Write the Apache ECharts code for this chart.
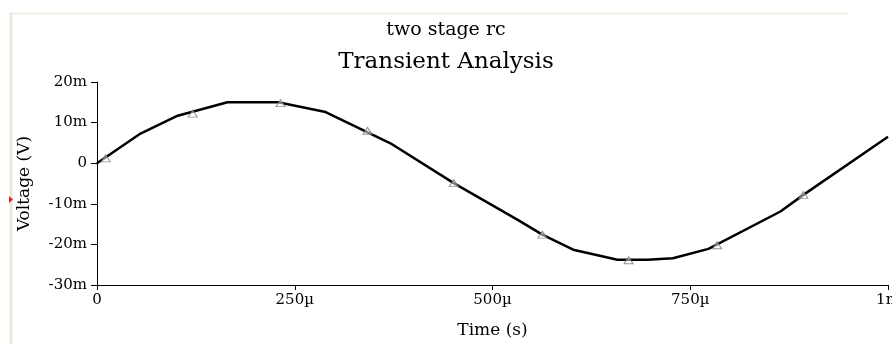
<!DOCTYPE html>
<html>
<head>
<meta charset="utf-8">
<script src="https://cdn.jsdelivr.net/npm/echarts@6/dist/echarts.min.js"></script>
<style>
	html, body { margin: 0; padding: 0; background: #fff; }
	#chart { width: 892px; height: 344px; }
</style>
</head>
<body>
<div id="chart"></div>
<script>
// two stage rc - transient analysis.
// 时间 (µs)
var timeUs = [0, 55, 102, 165, 229, 289, 371, 451, 533, 563, 602, 658, 696, 728, 773, 864, 893, 1000];
// 电压 (mV)
var voltMv = [0, 7.3, 11.7, 15.0, 15.0, 12.6, 4.9, -4.9, -14.1, -17.6, -21.3, -23.8, -23.8, -23.4, -21.1, -11.9, -7.8, 6.5];
// 三角形标记点
var markTimeUs = [11, 121, 232, 342, 451, 563, 672, 784, 893];
var markVoltMv = [1.2, 12.2, 14.8, 8.0, -4.9, -17.6, -23.9, -20.2, -7.8];
// 刻度标签
var xTickLabels = ['0', '250\u00b5', '500\u00b5', '750\u00b5', '1m'];
var yTickLabels = ['-30m', '-20m', '-10m', '0', '10m', '20m'];

;(function(){
	var serif = 'DejaVu Serif';
	var chart = echarts.init(document.getElementById('chart'));

	var lineData = timeUs.map(function(t, i){ return [t, voltMv[i]]; });
	var markData = markTimeUs.map(function(t, i){ return [t, markVoltMv[i]]; });

	var option = {
		animation: false,
		backgroundColor: '#fff',
		title: {
			text: '{a|two stage rc}\n{b|Transient Analysis}',
			left: 'center',
			top: 9,
			textStyle: {
				rich: {
					a: { fontFamily: serif, fontSize: 19, fontWeight: 'normal', color: '#000', lineHeight: 32 },
					b: { fontFamily: serif, fontSize: 23, fontWeight: 'normal', color: '#000', lineHeight: 32 }
				}
			}
		},
		grid: {
			left: 97,
			right: 4,
			top: 82,
			bottom: 59,
			outerBoundsMode: 'none'
		},
		xAxis: {
			type: 'value',
			min: 0,
			max: 1000,
			interval: 250,
			name: 'Time (s)',
			nameLocation: 'middle',
			nameGap: 37,
			nameTextStyle: { fontFamily: serif, fontSize: 17, color: '#000' },
			axisLine: { onZero: false, lineStyle: { color: '#000', width: 1 } },
			axisTick: { length: 5, lineStyle: { color: '#000' } },
			axisLabel: {
				fontFamily: serif, fontSize: 15, color: '#000', margin: 8,
				formatter: function(v){ return xTickLabels[Math.round(v / 250)]; }
			},
			splitLine: { show: false }
		},
		yAxis: {
			type: 'value',
			min: -30,
			max: 20,
			interval: 10,
			name: 'Voltage (V)',
			nameLocation: 'middle',
			nameGap: 64,
			nameTextStyle: { fontFamily: serif, fontSize: 17, color: '#000' },
			axisLine: { show: true, onZero: false, lineStyle: { color: '#000', width: 1 } },
			axisTick: { show: true, length: 6, lineStyle: { color: '#000' } },
			axisLabel: {
				fontFamily: serif, fontSize: 15, color: '#000', margin: 10,
				formatter: function(v){ return yTickLabels[Math.round((v + 30) / 10)]; }
			},
			splitLine: { show: false }
		},
		series: [
			{
				type: 'line',
				data: lineData,
				showSymbol: false,
				lineStyle: { color: '#000', width: 2.5 },
				z: 2
			},
			{
				type: 'scatter',
				data: markData,
				symbol: 'triangle',
				symbolSize: [9, 7],
				itemStyle: { color: 'rgba(255,255,255,0.6)', borderColor: '#777', borderWidth: 1 },
				z: 3
			}
		],
		graphic: [
			// 原图边框残留
			{ type: 'line', shape: { x1: 9, y1: 13.5, x2: 848, y2: 13.5 }, style: { stroke: '#f1eee4', lineWidth: 2 } },
			{ type: 'line', shape: { x1: 11, y1: 13, x2: 11, y2: 344 }, style: { stroke: '#ece7d8', lineWidth: 3 } },
			{ type: 'polygon', shape: { points: [[9, 196], [9, 203], [13, 199.5]] }, style: { fill: '#e02020' } }
		]
	};

	option && chart.setOption(option);
})();
</script>
</body>
</html>
